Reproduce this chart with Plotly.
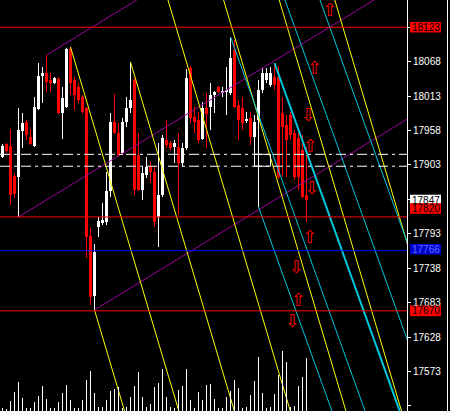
import plotly.graph_objects as go

# ---------------- data ----------------
bars = list(range(77))
opens = [17915.7, 17936.5, 17933.3, 17885.4, 17883.8, 17957.3, 17971.7, 17947.7, 17933.3, 17992.4,
         18045.1, 18049.9, 18038.7, 18033.9, 18040.3, 17986.0, 17995.6, 18088.2, 18038.7, 18027.5,
         18011.6, 17994.0, 17789.5, 17693.7, 17803.9, 17810.3, 17811.9, 17861.4, 17971.7, 17954.1,
         17922.1, 17971.7, 17994.0, 18038.7, 17918.9, 17863.0, 17887.0, 17901.3, 17891.8, 17819.9,
         17855.0, 17942.9, 17938.1, 17931.7, 17931.7, 17906.1, 17930.1, 18057.9, 17979.6, 17974.8,
         17944.5, 17994.0, 17995.6, 18014.8, 18027.5, 18019.5, 18019.5, 18017.9, 18086.6, 17998.8,
         17994.0, 17973.3, 17978.0, 17947.7, 17974.8, 18022.7, 18038.7, 18030.7, 18043.5, 18043.5,
         17986.0, 17966.8, 17982.8, 17954.1, 17946.1, 17926.9, 17855.0]
highs = [17936.5, 17938.1, 17960.4, 17890.0, 17994.0, 17986.0, 17974.8, 17960.4, 18011.6, 18065.9,
         18059.5, 18078.6, 18049.9, 18043.5, 18043.5, 18027.5, 18089.8, 18091.4, 18043.5, 18033.9,
         18014.8, 17995.6, 17802.3, 17776.8, 17819.9, 17842.3, 17891.8, 17986.0, 18016.4, 17970.1,
         17978.0, 18011.6, 18067.5, 18041.9, 17954.1, 17899.7, 17915.7, 17909.3, 17899.7, 17938.1,
         17950.9, 17974.8, 17941.3, 17942.9, 17954.1, 17938.1, 18056.3, 18061.1, 17995.6, 17987.6,
         18003.6, 18017.9, 18033.9, 18021.1, 18029.1, 18027.5, 18059.5, 18107.4, 18102.6, 18006.8,
         18011.6, 17987.6, 17987.6, 17982.8, 18038.7, 18057.9, 18057.9, 18059.5, 18065.9, 18061.1,
         18011.6, 17982.8, 17987.6, 17958.9, 17954.1, 17950.9, 17931.7]
lows = [17914.1, 17922.1, 17839.1, 17850.2, 17819.9, 17930.1, 17942.9, 17934.9, 17931.7, 17990.8,
        18002.0, 18019.5, 18019.5, 18032.3, 17984.4, 17944.5, 17994.0, 18014.8, 17990.8, 18002.0,
        17984.4, 17754.4, 17679.3, 17671.4, 17787.9, 17807.1, 17807.1, 17851.8, 17952.5, 17915.7,
        17918.9, 17963.6, 17986.0, 17855.0, 17861.4, 17847.0, 17882.2, 17874.2, 17803.9, 17772.0,
        17851.8, 17930.1, 17926.9, 17906.1, 17823.1, 17899.7, 17926.9, 17970.1, 17954.1, 17938.1,
        17942.9, 17930.1, 17958.9, 17986.0, 18017.9, 18011.6, 17982.8, 18014.8, 17994.0, 17942.9,
        17958.9, 17970.1, 17934.9, 17901.3, 17835.9, 18017.9, 18033.9, 18027.5, 18022.7, 17880.6,
        17883.8, 17883.8, 17942.9, 17879.0, 17863.0, 17850.2, 17811.9]
closes = [17933.3, 17925.3, 17855.0, 17856.6, 17958.9, 17970.1, 17950.9, 17936.5, 17995.6, 18045.1,
          18049.9, 18035.5, 18033.9, 18041.9, 17986.0, 18010.0, 18088.2, 18033.9, 18014.8, 18006.8,
          17987.6, 17787.9, 17692.1, 17764.0, 17813.5, 17815.0, 17861.4, 17971.7, 17954.1, 17918.9,
          17971.7, 17994.0, 18006.8, 17863.0, 17863.0, 17890.2, 17899.7, 17891.8, 17811.9, 17855.0,
          17946.1, 17934.9, 17930.1, 17938.1, 17906.1, 17930.1, 18041.9, 17978.0, 17971.7, 17942.9,
          17994.0, 17984.4, 18014.8, 18019.5, 18019.5, 18021.1, 18022.7, 18073.9, 17995.6, 17974.8,
          17970.1, 17976.4, 17947.7, 17971.7, 18022.7, 18049.9, 18049.9, 18049.9, 18030.7, 17883.8,
          17963.6, 17942.9, 17950.9, 17883.8, 17883.8, 17851.8, 17847.0]
volumes = [30, 20, 100, 190, 290, 130, 30, 30, 90, 150, 250, 120, 30, 30, 90, 180, 260, 110, 30, 30,
           110, 310, 400, 180, 40, 40, 110, 200, 220, 240, 30, 40, 140, 250, 390, 140, 40, 70, 240, 280,
           420, 140, 40, 30, 210, 250, 420, 110, 30, 190, 110, 260, 270, 120, 30, 30, 140, 200, 310, 230,
           30, 40, 160, 300, 540, 180, 30, 40, 170, 360, 600, 490, 40, 50, 250, 340, 530]

# price levels (horizontal lines) and their right-axis labels
red_levels = [18123, 17820, 17670]
blue_level = 17766
dashdot_levels = [17920, 17901]
bid_price = 17847
tick_values = [17518 + 55 * k for k in range(12)]
hidden_ticks = [17848, 18123]   # covered by the price boxes

# trend lines: anchor bar, anchor price, starts at anchor (True) or enters from the top (False)
yellow_bar = [23, 17, 32, 41.375, 55.275, 69.175, 83.075]
yellow_price = [17671.4, 18091.4, 18067.5, 18166.5, 18166.5, 18166.5, 18166.5]
yellow_from_anchor = [True, True, True, False, False, False, False]
yellow_slope = -21.47  # price per bar

cyan_bar = [64, 57, 68, 70.625, 79.375]
cyan_price = [17835.9, 18107.4, 18065.9, 18166.5, 18166.5]
cyan_from_anchor = [True, True, True, False, False]
cyan_width = [1, 1, 2, 1, 1]
cyan_slope = -17.76

magenta_bar = [4, 11, 23]
magenta_price = [17819.9, 18078.6, 17671.4]
magenta_slope = 3.90

arrow_bar = [81.9, 78.1, 76.5, 77.0, 77.4, 76.9, 73.5, 74.0, 72.5]
arrow_price = [18148, 18055, 17980, 17931, 17864, 17786, 17738, 17685, 17651]
arrow_dir = ["up", "up", "down", "up", "down", "up", "down", "up", "down"]

# ---------------- figure ----------------
Y_MIN, Y_MAX = 17510, 18166.5
PLOT_W = 407
px_price = (Y_MAX - Y_MIN) / 411.0

fig = go.Figure()

# volume
fig.add_trace(go.Bar(x=bars, y=volumes, width=0.25, yaxis="y2",
                     marker=dict(color="white", line=dict(width=0)), hoverinfo="skip"))

up = [i for i in bars if closes[i] >= opens[i]]
dn = [i for i in bars if closes[i] < opens[i]]

for idx, col in ((up, "white"), (dn, "#ff0000")):
    wx, wy = [], []
    for i in idx:
        wx += [i, i, None]
        wy += [lows[i], highs[i], None]
    fig.add_trace(go.Scatter(x=wx, y=wy, mode="lines", line=dict(color=col, width=1),
                             hoverinfo="skip"))
for idx, col in ((up, "white"), (dn, "#ff0000")):
    base = [min(opens[i], closes[i]) for i in idx]
    hgt = [max(abs(closes[i] - opens[i]), 1.6) for i in idx]
    fig.add_trace(go.Bar(x=idx, y=hgt, base=base, width=0.75,
                         marker=dict(color=col, line=dict(width=0)), hoverinfo="skip"))


def ray(b, p, slope, from_anchor, span=120):
    b0 = b if from_anchor else b - 20
    p0 = p + slope * (b0 - b)
    b1 = b + span
    return [b0, b1], [p0, p + slope * span]


for b, p in zip(magenta_bar, magenta_price):
    xs, ys = ray(b, p, magenta_slope, True)
    fig.add_trace(go.Scatter(x=xs, y=ys, mode="lines", line=dict(color="#a000a0", width=1),
                             hoverinfo="skip"))
for b, p, fa in zip(yellow_bar, yellow_price, yellow_from_anchor):
    xs, ys = ray(b, p, yellow_slope, fa)
    fig.add_trace(go.Scatter(x=xs, y=ys, mode="lines", line=dict(color="#ffff00", width=1),
                             hoverinfo="skip"))
for b, p, fa, w in zip(cyan_bar, cyan_price, cyan_from_anchor, cyan_width):
    xs, ys = ray(b, p, cyan_slope, fa)
    fig.add_trace(go.Scatter(x=xs, y=ys, mode="lines", line=dict(color="#00c8dc", width=w),
                             hoverinfo="skip"))

fig.add_trace(go.Scatter(x=arrow_bar, y=arrow_price, mode="text", cliponaxis=False,
                         text=["\u21e7" if d == "up" else "\u21e9" for d in arrow_dir],
                         textposition="middle center",
                         textfont=dict(family="DejaVu Sans", size=18, color="#ff0000"),
                         hoverinfo="skip"))

shapes = []
for lv in red_levels:
    shapes.append(dict(type="line", xref="paper", x0=0, x1=1, yref="y", y0=lv, y1=lv,
                       line=dict(color="#ff0000", width=1), layer="above"))
shapes.append(dict(type="line", xref="paper", x0=0, x1=1, yref="y", y0=blue_level, y1=blue_level,
                   line=dict(color="#0000ff", width=1), layer="above"))
for lv in dashdot_levels:
    shapes.append(dict(type="line", xref="paper", x0=0, x1=1, yref="y", y0=lv, y1=lv,
                       line=dict(color="white", width=1, dash="10px,4px,3px,4px"), layer="above"))
shapes.append(dict(type="rect", xref="x", yref="y", x0=63, x1=67,
                   y0=dashdot_levels[1], y1=dashdot_levels[0],
                   line=dict(color="white", width=1), layer="above"))
# window border at the far right
shapes.append(dict(type="line", xref="paper", yref="paper", x0=447.5 / PLOT_W, x1=447.5 / PLOT_W,
                   y0=0, y1=1, line=dict(color="white", width=1)))

annotations = []
labels = [(red_levels[0], 0, "#ff0000", "black"),
          (bid_price, 0, "white", "black"),
          (red_levels[1], 8.5, "#ff0000", "black"),
          (blue_level, 1.5, "#0000d0", "#5a70ff"),
          (red_levels[2], 0, "#ff0000", "black")]
for lv, shift_px, bg, fg in labels:
    c = lv + shift_px * px_price
    shapes.append(dict(type="rect", xref="paper", yref="y",
                       x0=1 + 3 / PLOT_W, x1=1 + 34 / PLOT_W,
                       y0=c - 5.3 * px_price, y1=c + 5.3 * px_price,
                       fillcolor=bg, line=dict(width=0), layer="above"))
    annotations.append(dict(xref="paper", yref="y", x=1 + 18.5 / PLOT_W, y=c, text=str(lv),
                            showarrow=False, xanchor="center", yanchor="middle",
                            font=dict(family="Liberation Sans", size=10, color=fg)))

fig.update_layout(
    width=450, height=411,
    margin=dict(l=0, r=450 - PLOT_W, t=0, b=0),
    paper_bgcolor="black", plot_bgcolor="black",
    showlegend=False, barmode="overlay", bargap=0,
    xaxis=dict(range=[-0.625, (PLOT_W - 2.5) / 4], visible=False, fixedrange=True),
    yaxis=dict(range=[Y_MIN, Y_MAX], side="right", showgrid=False, zeroline=False,
               showline=True, linecolor="white", linewidth=1, ticks="outside", ticklen=3,
               tickcolor="white", tickvals=tick_values,
               ticktext=["" if v in hidden_ticks else str(v) for v in tick_values],
               tickfont=dict(family="Liberation Sans", size=10, color="white"), fixedrange=True),
    yaxis2=dict(range=[0, 4110], overlaying="y", visible=False, fixedrange=True),
    shapes=shapes, annotations=annotations,
)

fig.write_html("out.html", config={"displayModeBar": False},
               post_script="document.body.style.margin='0px';")
